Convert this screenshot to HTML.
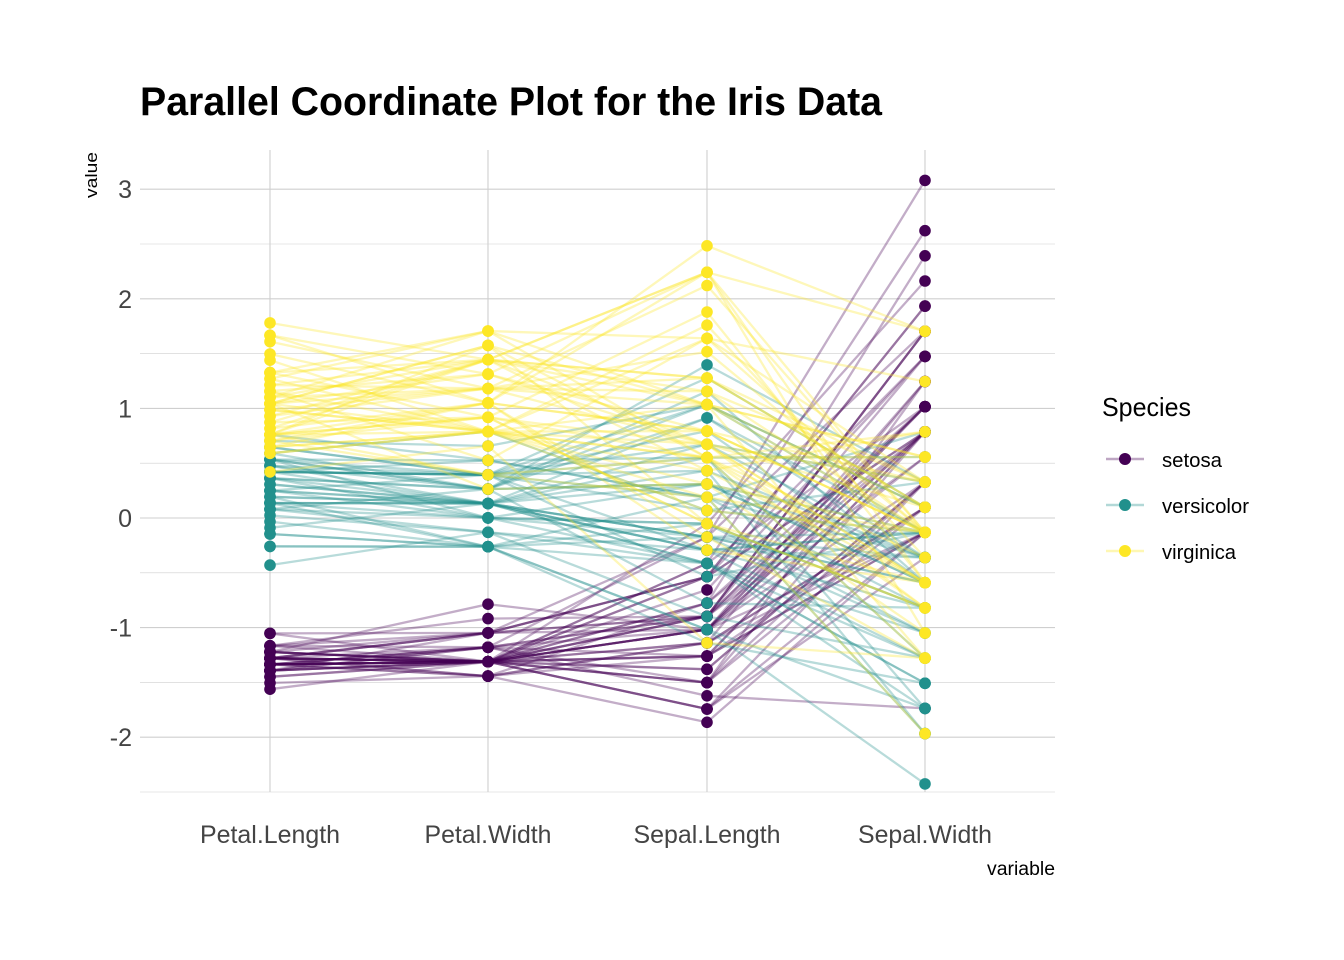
<!DOCTYPE html>
<html><head><meta charset="utf-8"><style>
html,body{margin:0;padding:0;background:#fff;}
svg{display:block;font-family:"Liberation Sans",sans-serif;}
</style></head><body>
<svg id="s" width="1344" height="960" xmlns="http://www.w3.org/2000/svg">
<rect width="1344" height="960" fill="#fff"/>
<g id="grid"></g>
<g id="lines"></g>
<g id="pts"></g>
<text x="140" y="115" font-size="40" font-weight="bold" textLength="742" lengthAdjust="spacingAndGlyphs">Parallel Coordinate Plot for the Iris Data</text>
<text transform="translate(97,198) rotate(-90)" font-size="17" textLength="46" lengthAdjust="spacingAndGlyphs">value</text>
<text x="1055" y="875" font-size="19" text-anchor="end" textLength="68" lengthAdjust="spacingAndGlyphs">variable</text>
<g font-size="25" fill="#444" text-anchor="middle">
<text x="270" y="843" textLength="140" lengthAdjust="spacingAndGlyphs">Petal.Length</text>
<text x="488" y="843" textLength="127" lengthAdjust="spacingAndGlyphs">Petal.Width</text>
<text x="707" y="843" textLength="147" lengthAdjust="spacingAndGlyphs">Sepal.Length</text>
<text x="925" y="843" textLength="134" lengthAdjust="spacingAndGlyphs">Sepal.Width</text>
</g>
<g id="yt" font-size="25" fill="#444" text-anchor="end"></g>
<text x="1102" y="416" font-size="26" textLength="89" lengthAdjust="spacingAndGlyphs">Species</text>
<g font-size="20">
<line x1="1106" y1="459" x2="1144" y2="459" stroke="#440154" stroke-opacity="0.35" stroke-width="2.5"/><circle cx="1125" cy="459" r="6" fill="#440154"/><text x="1162" y="467" textLength="60" lengthAdjust="spacingAndGlyphs">setosa</text>
<line x1="1106" y1="505" x2="1144" y2="505" stroke="#21908C" stroke-opacity="0.35" stroke-width="2.5"/><circle cx="1125" cy="505" r="6" fill="#21908C"/><text x="1162" y="513" textLength="87" lengthAdjust="spacingAndGlyphs">versicolor</text>
<line x1="1106" y1="551" x2="1144" y2="551" stroke="#FDE725" stroke-opacity="0.35" stroke-width="2.5"/><circle cx="1125" cy="551" r="6" fill="#FDE725"/><text x="1162" y="559" textLength="74" lengthAdjust="spacingAndGlyphs">virginica</text>
</g>
</svg>
<script>
var raw="5.1,3.5,1.4,0.2;4.9,3.0,1.4,0.2;4.7,3.2,1.3,0.2;4.6,3.1,1.5,0.2;5.0,3.6,1.4,0.2;5.4,3.9,1.7,0.4;4.6,3.4,1.4,0.3;5.0,3.4,1.5,0.2;4.4,2.9,1.4,0.2;4.9,3.1,1.5,0.1;5.4,3.7,1.5,0.2;4.8,3.4,1.6,0.2;4.8,3.0,1.4,0.1;4.3,3.0,1.1,0.1;5.8,4.0,1.2,0.2;5.7,4.4,1.5,0.4;5.4,3.9,1.3,0.4;5.1,3.5,1.4,0.3;5.7,3.8,1.7,0.3;5.1,3.8,1.5,0.3;5.4,3.4,1.7,0.2;5.1,3.7,1.5,0.4;4.6,3.6,1.0,0.2;5.1,3.3,1.7,0.5;4.8,3.4,1.9,0.2;5.0,3.0,1.6,0.2;5.0,3.4,1.6,0.4;5.2,3.5,1.5,0.2;5.2,3.4,1.4,0.2;4.7,3.2,1.6,0.2;4.8,3.1,1.6,0.2;5.4,3.4,1.5,0.4;5.2,4.1,1.5,0.1;5.5,4.2,1.4,0.2;4.9,3.1,1.5,0.2;5.0,3.2,1.2,0.2;5.5,3.5,1.3,0.2;4.9,3.6,1.4,0.1;4.4,3.0,1.3,0.2;5.1,3.4,1.5,0.2;5.0,3.5,1.3,0.3;4.5,2.3,1.3,0.3;4.4,3.2,1.3,0.2;5.0,3.5,1.6,0.6;5.1,3.8,1.9,0.4;4.8,3.0,1.4,0.3;5.1,3.8,1.6,0.2;4.6,3.2,1.4,0.2;5.3,3.7,1.5,0.2;5.0,3.3,1.4,0.2;"+
"7.0,3.2,4.7,1.4;6.4,3.2,4.5,1.5;6.9,3.1,4.9,1.5;5.5,2.3,4.0,1.3;6.5,2.8,4.6,1.5;5.7,2.8,4.5,1.3;6.3,3.3,4.7,1.6;4.9,2.4,3.3,1.0;6.6,2.9,4.6,1.3;5.2,2.7,3.9,1.4;5.0,2.0,3.5,1.0;5.9,3.0,4.2,1.5;6.0,2.2,4.0,1.0;6.1,2.9,4.7,1.4;5.6,2.9,3.6,1.3;6.7,3.1,4.4,1.4;5.6,3.0,4.5,1.5;5.8,2.7,4.1,1.0;6.2,2.2,4.5,1.5;5.6,2.5,3.9,1.1;5.9,3.2,4.8,1.8;6.1,2.8,4.0,1.3;6.3,2.5,4.9,1.5;6.1,2.8,4.7,1.2;6.4,2.9,4.3,1.3;6.6,3.0,4.4,1.4;6.8,2.8,4.8,1.4;6.7,3.0,5.0,1.7;6.0,2.9,4.5,1.5;5.7,2.6,3.5,1.0;5.5,2.4,3.8,1.1;5.5,2.4,3.7,1.0;5.8,2.7,3.9,1.2;6.0,2.7,5.1,1.6;5.4,3.0,4.5,1.5;6.0,3.4,4.5,1.6;6.7,3.1,4.7,1.5;6.3,2.3,4.4,1.3;5.6,3.0,4.1,1.3;5.5,2.5,4.0,1.3;5.5,2.6,4.4,1.2;6.1,3.0,4.6,1.4;5.8,2.6,4.0,1.2;5.0,2.3,3.3,1.0;5.6,2.7,4.2,1.3;5.7,3.0,4.2,1.2;5.7,2.9,4.2,1.3;6.2,2.9,4.3,1.3;5.1,2.5,3.0,1.1;5.7,2.8,4.1,1.3;"+
"6.3,3.3,6.0,2.5;5.8,2.7,5.1,1.9;7.1,3.0,5.9,2.1;6.3,2.9,5.6,1.8;6.5,3.0,5.8,2.2;7.6,3.0,6.6,2.1;4.9,2.5,4.5,1.7;7.3,2.9,6.3,1.8;6.7,2.5,5.8,1.8;7.2,3.6,6.1,2.5;6.5,3.2,5.1,2.0;6.4,2.7,5.3,1.9;6.8,3.0,5.5,2.1;5.7,2.5,5.0,2.0;5.8,2.8,5.1,2.4;6.4,3.2,5.3,2.3;6.5,3.0,5.5,1.8;7.7,3.8,6.7,2.2;7.7,2.6,6.9,2.3;6.0,2.2,5.0,1.5;6.9,3.2,5.7,2.3;5.6,2.8,4.9,2.0;7.7,2.8,6.7,2.0;6.3,2.7,4.9,1.8;6.7,3.3,5.7,2.1;7.2,3.2,6.0,1.8;6.2,2.8,4.8,1.8;6.1,3.0,4.9,1.8;6.4,2.8,5.6,2.1;7.2,3.0,5.8,1.6;7.4,2.8,6.1,1.9;7.9,3.8,6.4,2.0;6.4,2.8,5.6,2.2;6.3,2.8,5.1,1.5;6.1,2.6,5.6,1.4;7.7,3.0,6.1,2.3;6.3,3.4,5.6,2.4;6.4,3.1,5.5,1.8;6.0,3.0,4.8,1.8;6.9,3.1,5.4,2.1;6.7,3.1,5.6,2.4;6.9,3.1,5.1,2.3;5.8,2.7,5.1,1.9;6.8,3.2,5.9,2.3;6.7,3.3,5.7,2.5;6.7,3.0,5.2,2.3;6.3,2.5,5.0,1.9;6.5,3.0,5.2,2.0;6.2,3.4,5.4,2.3;5.9,3.0,5.1,1.8";
var rows=raw.split(";").map(function(r){return r.split(",").map(Number);});
var z=[];for(var j=0;j<4;j++){var m=0;rows.forEach(function(r){m+=r[j];});m/=rows.length;var v=0;rows.forEach(function(r){v+=(r[j]-m)*(r[j]-m);});var sd=Math.sqrt(v/(rows.length-1));z.push(rows.map(function(r){return (r[j]-m)/sd;}));}
var order=[2,3,0,1],xs=[270,488,707,925],cols=["#440154","#21908C","#FDE725"];
function Y(v){return 518-v*109.6;}
var NS="http://www.w3.org/2000/svg";
function el(p,t,a){var e=document.createElementNS(NS,t);for(var k in a)e.setAttribute(k,a[k]);document.getElementById(p).appendChild(e);return e;}
for(var v=-2.5;v<=3.01;v+=0.5){el("grid","line",{x1:140,x2:1055,y1:Y(v),y2:Y(v),stroke:"#cfcfcf","stroke-width":Math.abs(v%1)<0.01?1.1:0.6});}
xs.forEach(function(x){el("grid","line",{x1:x,x2:x,y1:150,y2:792,stroke:"#cfcfcf","stroke-width":1.1});});
[-2,-1,0,1,2,3].forEach(function(v){var t=el("yt","text",{x:132,y:Y(v)+9});t.textContent=v;});
for(var i=0;i<150;i++){var c=cols[Math.floor(i/50)];var pts=order.map(function(j,k){return xs[k]+","+Y(z[j][i]).toFixed(1);}).join(" ");
el("lines","polyline",{points:pts,fill:"none",stroke:c,"stroke-opacity":0.32,"stroke-width":2.3});}
for(var i=0;i<150;i++){var c=cols[Math.floor(i/50)];order.forEach(function(j,k){el("pts","circle",{cx:xs[k],cy:Y(z[j][i]).toFixed(1),r:5.8,fill:c});});}
</script>
</body></html>
